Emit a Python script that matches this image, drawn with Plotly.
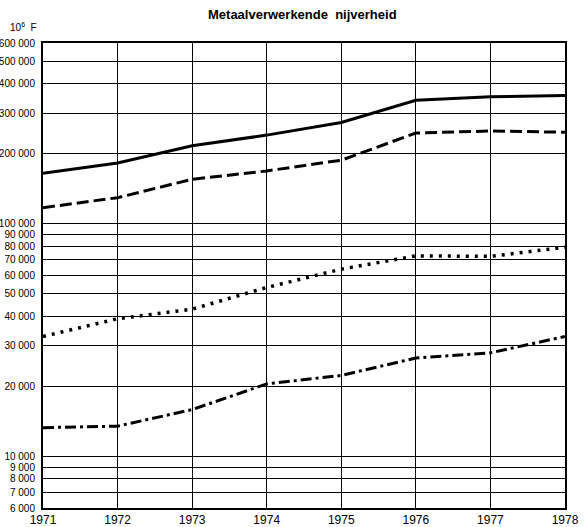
import plotly.graph_objects as go

years = [1971, 1972, 1973, 1974, 1975, 1976, 1977, 1978]
solid_vals = [165000, 183000, 217000, 241000, 273000, 340000, 352000, 357000]
dashed_vals = [117500, 129700, 155600, 169000, 188000, 246000, 251000, 248000]
dotted_vals = [32800, 39100, 43000, 53300, 63900, 72900, 72500, 79400]
dashdot_vals = [13300, 13500, 15900, 20500, 22300, 26500, 27900, 32800]

y_ticks = [6000, 7000, 8000, 9000, 10000, 20000, 30000, 40000, 50000,
           60000, 70000, 80000, 90000, 100000, 200000, 300000, 400000,
           500000, 600000]
y_tick_text = [f"{v:,}".replace(",", " ") for v in y_ticks]

title_text = "Metaalverwerkende  nijverheid"
unit_text = "10<sup>6</sup>  F"

fig = go.Figure()
series = [
    (solid_vals, "solid", 3),
    (dashed_vals, "12px,5px", 3),
    (dotted_vals, "3px,6px", 3.5),
    (dashdot_vals, "11px,4px,3px,4px", 3),
]
for vals, dash, w in series:
    fig.add_trace(go.Scatter(
        x=years, y=vals, mode="lines",
        line=dict(color="black", width=w, dash=dash),
        showlegend=False, hoverinfo="skip"))

font_family = "Liberation Sans, Arial, Helvetica, sans-serif"

W, H = 584, 527
l, r, t, b = 43, 19, 43, 19
pw, ph = W - l - r, H - t - b


def px_to_paper(px, py):
    return (px - l) / pw, 1 - (py - t) / ph


tx, ty = px_to_paper(302, 15)
ux, uy = px_to_paper(8, 27)

fig.update_layout(
    width=W, height=H,
    margin=dict(l=l, r=r, t=t, b=b, autoexpand=False),
    paper_bgcolor="white", plot_bgcolor="white",
    font=dict(family=font_family, color="black", size=10),
    hovermode=False,
    xaxis=dict(
        range=[1971, 1978], tickvals=years,
        ticktext=[str(y) for y in years],
        showgrid=True, gridcolor="black", gridwidth=1,
        showline=True, linecolor="black", linewidth=2, mirror=True,
        ticks="", zeroline=False, automargin=False,
        tickfont=dict(size=12, family=font_family, color="black"),
    ),
    yaxis=dict(
        type="log", range=[3.7782, 5.7782],
        tickvals=y_ticks, ticktext=y_tick_text,
        showgrid=True, gridcolor="black", gridwidth=1,
        showline=True, linecolor="black", linewidth=2, mirror=True,
        ticks="", zeroline=False, ticklabelstandoff=4, automargin=False,
        tickfont=dict(size=10, family=font_family, color="black"),
    ),
    annotations=[
        dict(text="<b>" + title_text + "</b>", x=tx, y=ty,
             xanchor="center", yanchor="middle",
             xref="paper", yref="paper", showarrow=False,
             font=dict(size=13, family=font_family, color="black")),
        dict(text=unit_text, x=ux, y=uy, xanchor="left", yanchor="middle",
             xref="paper", yref="paper", showarrow=False,
             font=dict(size=10, family=font_family, color="black")),
    ],
)

fig.write_html("out.html",
               config={"displayModeBar": False, "staticPlot": True},
               post_script="document.body.style.margin='0';"
                           "document.body.style.overflow='hidden';")
